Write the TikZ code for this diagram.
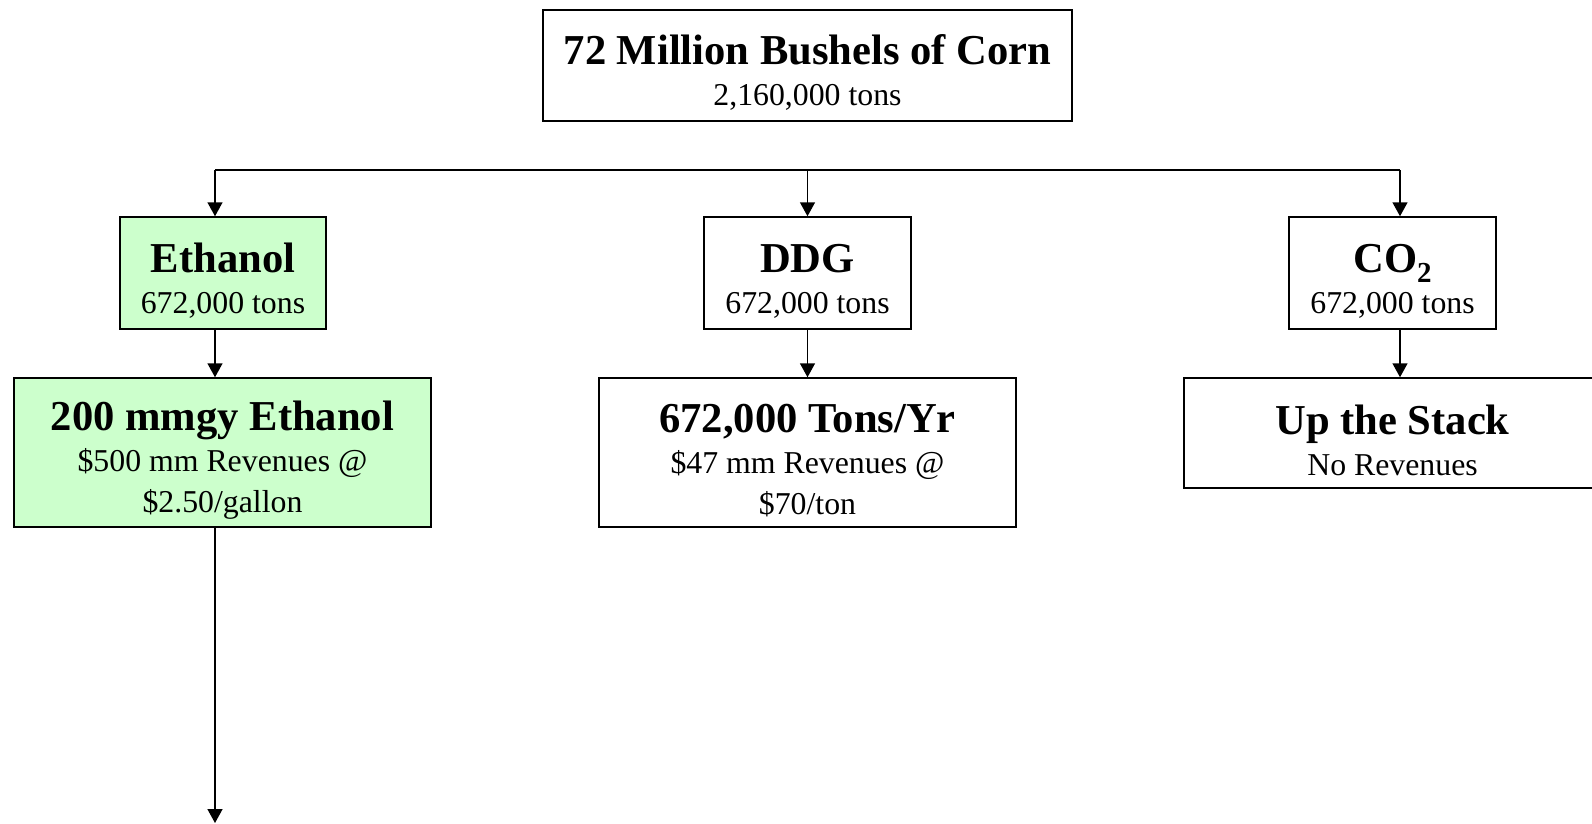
\documentclass[tikz,border=0pt]{standalone}
\usepackage{fontspec}
\setmainfont{Liberation Serif}
\usetikzlibrary{arrows.meta}
\definecolor{lgreen}{HTML}{CCFFCC}
\newcommand\hdfont{\fontsize{42.6}{48}\selectfont\bfseries\rule{0pt}{44pt}}
\newcommand\subfont{\fontsize{31.8}{41}\selectfont}
\begin{document}
\begin{tikzpicture}[x=1pt,y=-1pt,
  box/.style={draw, line width=1.5pt, align=center, inner sep=0pt, font=\subfont},
  green/.style={fill=lgreen},
  arr/.style={line width=1.5pt, -{Triangle[width=15pt,length=14pt]}},
  ln/.style={line width=1.5pt}
]
\useasboundingbox (0,0) rectangle (1592,823);
\fill[white] (0,0) rectangle (1592,823);

\node[box, minimum width=529pt, minimum height=111pt] (corn) at (807.5,65.5)
  {{\hdfont 72 Million Bushels of Corn}\\{2,160,000 tons}};

\node[box, green, minimum width=206pt, minimum height=112pt] (eth) at (223,273)
  {{\hdfont Ethanol}\\{672,000 tons}};
\node[box, minimum width=207pt, minimum height=112pt] (ddg) at (807.5,273)
  {{\hdfont DDG}\\{672,000 tons}};
\node[box, minimum width=207pt, minimum height=112pt] (co2) at (1392.5,273)
  {{\hdfont CO\raisebox{-10pt}{\fontsize{29}{29}\selectfont 2}}\\{672,000 tons}};

\node[box, green, minimum width=417pt, minimum height=149pt] (emm) at (222.5,452.5)
  {{\hdfont 200 mmgy Ethanol}\\{\$500 mm Revenues @}\\{\$2.50/gallon}};
\node[box, minimum width=417pt, minimum height=149pt] (dtons) at (807.5,452.5)
  {{\hdfont 672,000 Tons/Yr}\\{\$47 mm Revenues @}\\{\$70/ton}};
\node[box, minimum width=417pt, minimum height=110pt] (stack) at (1392.5,433)
  {{\hdfont Up the Stack}\\{No Revenues}};

\coordinate (hl) at (215,170);
\coordinate (hm) at (807.5,170);
\coordinate (hr) at (1400,170);
\coordinate (bend) at (215,823);

\draw[ln] (hl) -- (hr);
\draw[arr] (hl) -- (eth.north -| hl);
\draw[arr] (hm) -- (ddg.north);
\draw[arr] (hr) -- (co2.north -| hr);

\draw[arr] (eth.south -| hl) -- (emm.north -| hl);
\draw[arr] (ddg.south) -- (dtons.north);
\draw[arr] (co2.south -| hr) -- (stack.north -| hr);

\draw[arr] (emm.south -| hl) -- (bend);
\end{tikzpicture}
\end{document}
